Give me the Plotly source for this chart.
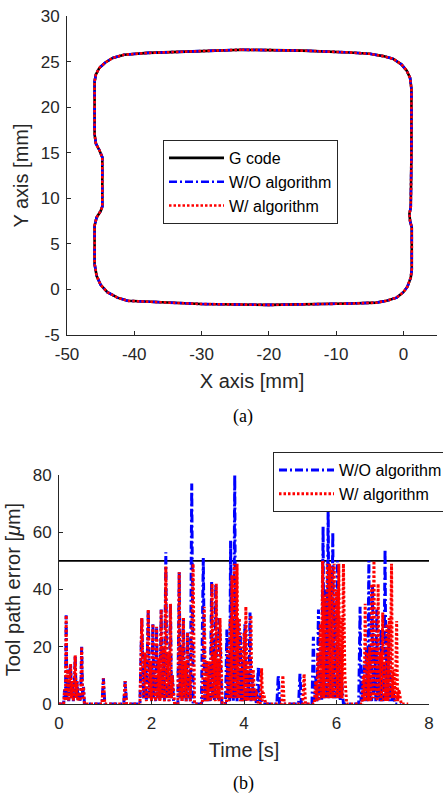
import plotly.graph_objects as go

# ---------------- (a) contour data ----------------
path_x = [-24, -15, -8, -5, -3, -1.5, -0.3, 0.5, 1.0, 1.2, 1.2, 1.15, 1.1, 0.9, 1.0, 1.25, 1.3, 1.25,
          1.1, 0.6, 0, -1, -2.5, -4, -8, -20, -30, -38, -41, -42.5, -44, -45, -45.6, -45.9, -45.9,
          -45.6, -45.0, -44.75, -44.75, -45.2, -45.7, -45.9, -45.9, -45.7, -45.2, -44.3, -43.2,
          -41.5, -38, -30, -24]
path_y = [26.3, 26.2, 26.0, 25.85, 25.6, 25.3, 24.7, 24.0, 23.2, 22.0, 15, 10, 9.0, 8.3, 7.5, 6.8, 4,
          2.2, 1.3, 0.3, -0.3, -0.9, -1.25, -1.45, -1.55, -1.7, -1.6, -1.4, -1.25, -0.9, -0.3, 0.5,
          1.5, 2.8, 7.0, 7.9, 8.6, 9.1, 14.5, 15.3, 16.0, 17.0, 22.8, 23.6, 24.3, 24.9, 25.4, 25.75,
          25.95, 26.15, 26.3]

x_ticks = [-50, -40, -30, -20, -10, 0]
x_ticktext = ["-50", "-40", "-30", "-20", "-10", "0"]
y_ticks = [-5, 0, 5, 10, 15, 20, 25, 30]
y_ticktext = ["-5", "0", "5", "10", "15", "20", "25", "30"]

# ---------------- (b) tool path error data ----------------
t_wo = [0.00, 0.10, 0.12, 0.14, 0.155, 0.17, 0.19, 0.21, 0.23, 0.25, 0.27, 0.29, 0.31, 0.33, 0.35, 0.37,
        0.39, 0.41, 0.43, 0.45, 0.47, 0.49, 0.51, 0.53, 0.55,
        0.93, 0.96, 0.99, 1.40, 1.43, 1.46, 1.75,
        1.79, 1.83, 1.86, 1.89, 1.93, 1.96, 1.98, 2.00, 2.03, 2.05, 2.07, 2.09, 2.11, 2.13, 2.16, 2.18,
        2.21, 2.23, 2.26, 2.28, 2.31, 2.33, 2.36, 2.38, 2.41, 2.43, 2.45, 2.48,
        2.57, 2.60, 2.62, 2.64, 2.66, 2.69, 2.71, 2.73, 2.75, 2.78, 2.80, 2.82, 2.84, 2.87, 2.90, 3.08,
        3.12, 3.15, 3.19, 3.21, 3.24, 3.27, 3.30, 3.32, 3.34, 3.36, 3.39, 3.41, 3.43, 3.45, 3.47, 3.52,
        3.60, 3.63, 3.65, 3.67, 3.69, 3.71, 3.73, 3.75, 3.77, 3.80, 3.82, 3.83, 3.85, 3.87, 3.89, 3.92,
        3.94, 3.97, 3.99, 4.02, 4.04, 4.07, 4.10, 4.13, 4.15, 4.18, 4.20, 4.22, 4.27, 4.31, 4.33, 4.35, 4.40,
        4.71, 4.74, 4.77, 5.18, 5.21, 5.24,
        5.47, 5.50, 5.53, 5.55, 5.58, 5.61, 5.63, 5.66, 5.68, 5.71, 5.73, 5.76, 5.79, 5.82, 5.84, 5.87,
        5.89, 5.92, 5.94, 5.97, 6.00, 6.02, 6.04, 6.06, 6.08, 6.10, 6.15,
        6.48, 6.51, 6.53, 6.55, 6.57, 6.60, 6.62, 6.65, 6.67, 6.70, 6.72, 6.74, 6.76, 6.78, 6.80, 6.83,
        6.85, 6.87, 6.89, 6.92, 6.94, 6.96, 6.98, 7.00, 7.02, 7.05, 7.07, 7.09, 7.11, 7.13, 7.15, 7.18,
        7.20, 7.22, 7.26, 7.40]
e_wo = [0, 0, 5, 1, 31, 2, 12, 1, 9, 14, 2, 8, 1, 6, 17, 2,
        8, 1, 4, 1, 3, 20, 2, 6, 0,
        0, 9, 0, 0, 8, 0, 0,
        30, 2, 18, 1, 33, 2, 15, 1, 28, 2, 12, 1, 27, 2, 16, 1,
        33, 2, 20, 1, 53, 2, 18, 1, 35, 2, 10, 0,
        0, 46, 2, 20, 1, 30, 2, 15, 1, 25, 2, 10, 1, 77, 0, 0,
        51, 1, 15, 1, 14, 1, 43, 2, 20, 1, 42, 2, 15, 1, 30, 0,
        0, 26, 2, 15, 1, 57, 2, 30, 1, 80, 2, 40, 1, 30, 2, 25,
        1, 15, 1, 28, 1, 12, 1, 32, 1, 10, 1, 5, 0, 13, 1, 3, 0,
        0, 10, 0, 0, 10.5, 0,
        0, 23.5, 1, 10, 1, 33, 2, 15, 1, 62, 2, 40, 2, 70, 2, 45,
        2, 60, 2, 35, 2, 50, 2, 20, 1, 10, 0,
        0, 34, 1, 12, 1, 15, 1, 20, 1, 50, 2, 18, 1, 42, 2, 20,
        1, 33, 2, 15, 1, 26, 1, 14, 1, 54, 2, 20, 1, 27, 1, 10,
        1, 5, 0, 0]

t_w = [0.00, 0.10, 0.12, 0.14, 0.155, 0.17, 0.19, 0.21, 0.23, 0.25, 0.27, 0.29, 0.31, 0.33, 0.35, 0.37,
       0.39, 0.41, 0.43, 0.45, 0.47, 0.49, 0.51, 0.53, 0.55,
       0.93, 0.96, 0.99, 1.40, 1.43, 1.46, 1.75,
       1.79, 1.83, 1.86, 1.89, 1.93, 1.96, 1.98, 2.00, 2.03, 2.05, 2.07, 2.09, 2.11, 2.13, 2.16, 2.18,
       2.21, 2.23, 2.26, 2.28, 2.31, 2.33, 2.36, 2.38, 2.41, 2.43, 2.45, 2.50,
       2.57, 2.60, 2.62, 2.64, 2.66, 2.69, 2.71, 2.73, 2.75, 2.78, 2.80, 2.82, 2.84, 2.87, 2.90, 2.93, 3.08,
       3.10, 3.14, 3.17, 3.19, 3.22, 3.25, 3.28, 3.31, 3.33, 3.36, 3.38, 3.40, 3.42, 3.44, 3.46, 3.48, 3.53,
       3.62, 3.65, 3.67, 3.70, 3.72, 3.74, 3.76, 3.79, 3.82, 3.85, 3.87, 3.90, 3.92, 3.95, 3.97, 4.00,
       4.02, 4.04, 4.07, 4.09, 4.12, 4.15, 4.17, 4.20, 4.23, 4.26, 4.31, 4.35, 4.38, 4.40, 4.42, 4.47,
       4.81, 4.84, 4.87, 5.27, 5.30, 5.33,
       5.52, 5.55, 5.57, 5.60, 5.62, 5.65, 5.67, 5.70, 5.72, 5.75, 5.77, 5.80, 5.82, 5.85, 5.87, 5.90,
       5.92, 5.95, 5.97, 6.00, 6.02, 6.05, 6.07, 6.10, 6.12, 6.15, 6.18, 6.22,
       6.55, 6.58, 6.60, 6.62, 6.64, 6.67, 6.69, 6.72, 6.74, 6.76, 6.78, 6.81, 6.83, 6.86, 6.88, 6.90,
       6.92, 6.95, 6.97, 7.00, 7.02, 7.04, 7.06, 7.09, 7.11, 7.14, 7.16, 7.19, 7.21, 7.24, 7.27, 7.30,
       7.32, 7.35, 7.40, 7.55]
e_w = [0, 0, 5, 1, 31, 2, 12, 1, 9, 14, 2, 8, 1, 6, 17, 2,
       8, 1, 4, 1, 3, 20, 2, 6, 0,
       0, 9, 0, 0, 8, 0, 0,
       30, 2, 18, 1, 33, 2, 15, 1, 28, 2, 12, 1, 27, 2, 16, 1,
       33, 2, 20, 1, 48, 2, 18, 1, 35, 2, 10, 0,
       0, 46, 2, 20, 1, 30, 2, 15, 1, 25, 2, 10, 1, 20, 49, 0, 0,
       0, 34, 1, 15, 1, 15, 1, 42, 2, 18, 1, 42, 2, 15, 1, 30, 0,
       0, 20, 1, 30, 2, 45, 2, 49, 2, 49, 2, 30, 1, 20, 1, 25,
       1, 34, 1, 15, 1, 31, 1, 12, 1, 5, 0, 0, 12.5, 1, 4, 0,
       0, 10, 0, 0, 10.5, 0,
       0, 8, 1, 18, 1, 28, 2, 50, 2, 38, 2, 49, 2, 49, 2, 48,
       2, 49, 2, 40, 2, 49, 2, 30, 2, 49, 10, 0,
       0, 10, 1, 35, 1, 18, 1, 20, 1, 42, 2, 50, 2, 20, 1, 42,
       2, 18, 1, 32, 1, 15, 1, 28, 1, 30, 2, 49, 2, 12, 1, 29,
       1, 5, 0, 0]

limit_t = [0, 8]
limit_e = [50, 50]

FONT = "Arial, Liberation Sans, sans-serif"
TXT = "#262626"

fig = go.Figure()

# (a)
fig.add_trace(go.Scatter(x=path_x, y=path_y, mode="lines", name="G code",
                         line=dict(color="black", width=2.6), xaxis="x", yaxis="y", legend="legend"))
fig.add_trace(go.Scatter(x=path_x, y=path_y, mode="lines", name="W/O algorithm",
                         line=dict(color="#0000ff", width=2.6, dash="8px,3px,2px,3px"),
                         xaxis="x", yaxis="y", legend="legend"))
fig.add_trace(go.Scatter(x=path_x, y=path_y, mode="lines", name="W/ algorithm",
                         line=dict(color="#ff0000", width=2.6, dash="2.5px,2px"),
                         xaxis="x", yaxis="y", legend="legend"))

# (b)
fig.add_trace(go.Scatter(x=limit_t, y=limit_e, mode="lines", showlegend=False,
                         line=dict(color="black", width=1.6), xaxis="x2", yaxis="y2"))
fig.add_trace(go.Scatter(x=t_wo, y=e_wo, mode="lines", name="W/O algorithm", cliponaxis=False,
                         line=dict(color="#0000ff", width=3, dash="8px,3px,2px,3px"),
                         xaxis="x2", yaxis="y2", legend="legend2"))
fig.add_trace(go.Scatter(x=t_w, y=e_w, mode="lines", name="W/ algorithm", cliponaxis=False,
                         line=dict(color="#ff0000", width=3, dash="2.5px,2px"),
                         xaxis="x2", yaxis="y2", legend="legend2"))

axis_common = dict(showline=True, linecolor=TXT, linewidth=1, ticks="inside", ticklen=4,
                   tickcolor=TXT, showgrid=False, zeroline=False, mirror=False,
                   tickfont=dict(family=FONT, size=17, color=TXT))

fig.update_layout(
    width=443, height=794,
    margin=dict(l=0, r=0, t=0, b=0, autoexpand=False),
    paper_bgcolor="white", plot_bgcolor="white",
    font=dict(family=FONT, color=TXT),
    xaxis=dict(domain=[67/443, 437/443], range=[-50, 5], anchor="y",
               tickvals=x_ticks, ticktext=x_ticktext, ticklabelstandoff=4,
               title=dict(text="X axis [mm]", font=dict(size=20, family=FONT, color=TXT), standoff=10),
               **axis_common),
    yaxis=dict(domain=[1-335/794, 1-16/794], range=[-5, 30], anchor="x",
               tickvals=y_ticks, ticktext=y_ticktext, ticklabelstandoff=3,
               title=dict(text="Y axis [mm]", font=dict(size=20, family=FONT, color=TXT), standoff=6),
               **axis_common),
    xaxis2=dict(domain=[59/443, 429/443], range=[0, 8], anchor="y2",
                tickvals=[0, 2, 4, 6, 8], ticklabelstandoff=4,
                title=dict(text="Time [s]", font=dict(size=20, family=FONT, color=TXT), standoff=10),
                **axis_common),
    yaxis2=dict(domain=[1-704/794, 1-475/794], range=[0, 80], anchor="x2",
                tickvals=[0, 20, 40, 60, 80], ticklabelstandoff=3,
                title=dict(text="Tool path error [<i>μ</i>m]", font=dict(size=20, family=FONT, color=TXT), standoff=6),
                **axis_common),
    legend=dict(x=163/443, y=1-140/794, xanchor="left", yanchor="top",
                bgcolor="white", bordercolor="#262626", borderwidth=1,
                font=dict(family=FONT, size=16, color="black"), itemwidth=55,
                tracegroupgap=0),
    legend2=dict(x=273/443, y=1-452/794, xanchor="left", yanchor="top",
                 bgcolor="white", bordercolor="#262626", borderwidth=1,
                 font=dict(family=FONT, size=16, color="black"), itemwidth=55),
    annotations=[
        dict(text="(a)", x=243/443, y=1-416/794, xref="paper", yref="paper", showarrow=False,
             yanchor="middle",
             font=dict(family="Times New Roman, Liberation Serif, serif", size=18, color="black")),
        dict(text="(b)", x=243/443, y=1-783/794, xref="paper", yref="paper", showarrow=False,
             yanchor="middle",
             font=dict(family="Times New Roman, Liberation Serif, serif", size=18, color="black")),
    ],
)

fig.write_html("out.html", config={"displayModeBar": False},
               post_script="document.body.style.margin='0';")
